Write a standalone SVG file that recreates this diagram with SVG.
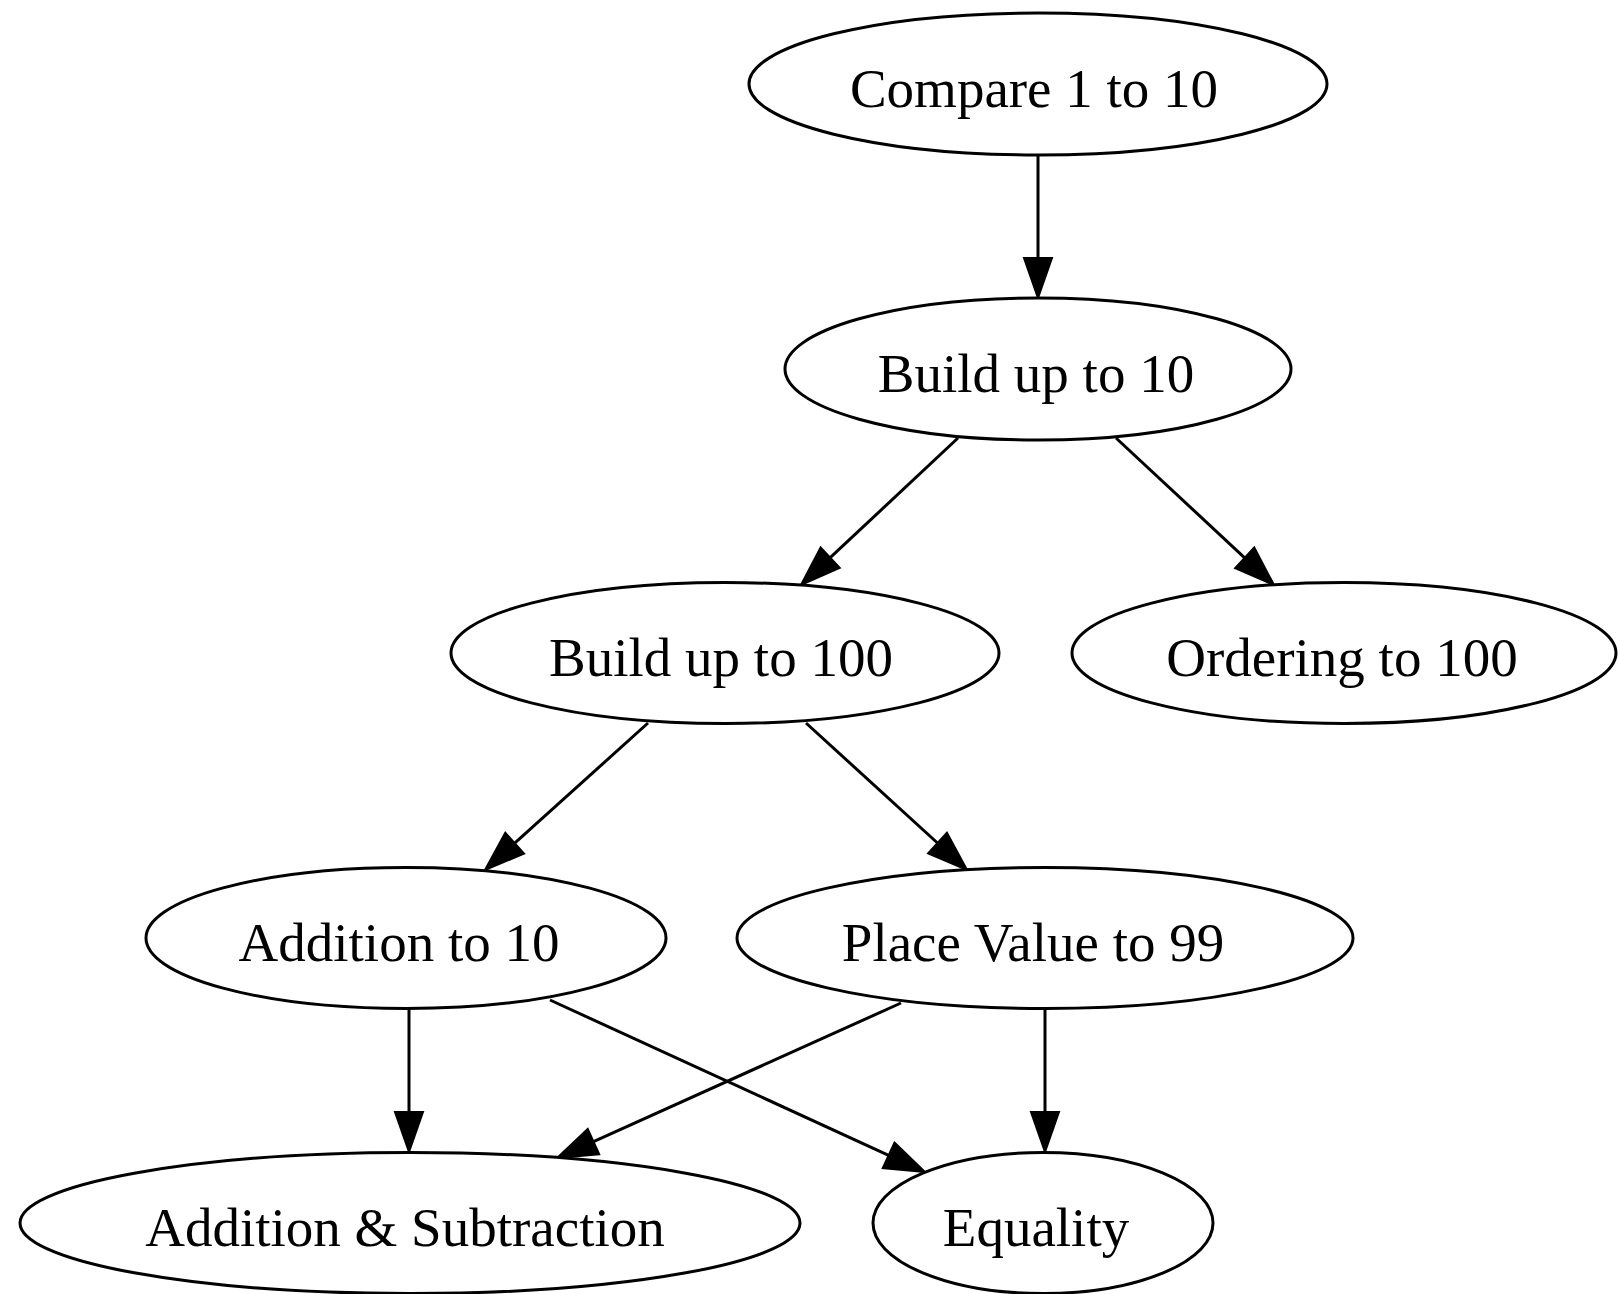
<svg xmlns="http://www.w3.org/2000/svg" width="1618" height="1294" viewBox="0 0 1618 1294">
<style>
.node ellipse{fill:#fff;stroke:#000;stroke-width:3}
.node text{font-family:"Liberation Serif","Times New Roman",serif;font-size:55px;text-anchor:middle;fill:#000}
.edges line{stroke:#000;stroke-width:3;marker-end:url(#ah)}
</style>
<defs>
<marker id="ah" markerUnits="userSpaceOnUse" markerWidth="42" markerHeight="30" refX="0" refY="14" orient="auto" overflow="visible">
<path d="M0,0 L40,14 L0,28 Z" fill="#000" stroke="#000" stroke-width="2"/>
</marker>
</defs>
<rect width="1618" height="1294" fill="#fff"/>
<g class="edges">
<line x1="1038" y1="155" x2="1038" y2="258"/>
<line x1="958" y1="438" x2="830.2" y2="557.7"/>
<line x1="1116" y1="438" x2="1244.7" y2="557.8"/>
<line x1="648" y1="723" x2="514.7" y2="843.2"/>
<line x1="806" y1="723" x2="937.5" y2="843"/>
<line x1="409" y1="1009" x2="409" y2="1112"/>
<line x1="550" y1="1000" x2="888.6" y2="1155.3"/>
<line x1="901" y1="1003" x2="593.5" y2="1141.6"/>
<line x1="1045" y1="1009" x2="1045" y2="1112"/>
</g>
<g id="compare" class="node"><ellipse cx="1038" cy="84" rx="289" ry="71"/><text x="1034" y="107">Compare 1 to 10</text></g>
<g id="build10" class="node"><ellipse cx="1038" cy="369" rx="253" ry="71"/><text x="1036" y="392">Build up to 10</text></g>
<g id="build100" class="node"><ellipse cx="725" cy="653" rx="274" ry="70.5"/><text x="721" y="676">Build up to 100</text></g>
<g id="ordering" class="node"><ellipse cx="1344" cy="653" rx="272" ry="70.5"/><text x="1342" y="676">Ordering to 100</text></g>
<g id="addition10" class="node"><ellipse cx="406" cy="938" rx="260" ry="70.5"/><text x="399" y="961">Addition to 10</text></g>
<g id="placevalue" class="node"><ellipse cx="1045" cy="938" rx="308" ry="70.5"/><text x="1033" y="961">Place Value to 99</text></g>
<g id="addsub" class="node"><ellipse cx="410" cy="1223" rx="390" ry="70.5"/><text x="405" y="1246">Addition &amp; Subtraction</text></g>
<g id="equality" class="node"><ellipse cx="1043" cy="1223" rx="170" ry="70.5"/><text x="1036" y="1246">Equality</text></g>
</svg>
